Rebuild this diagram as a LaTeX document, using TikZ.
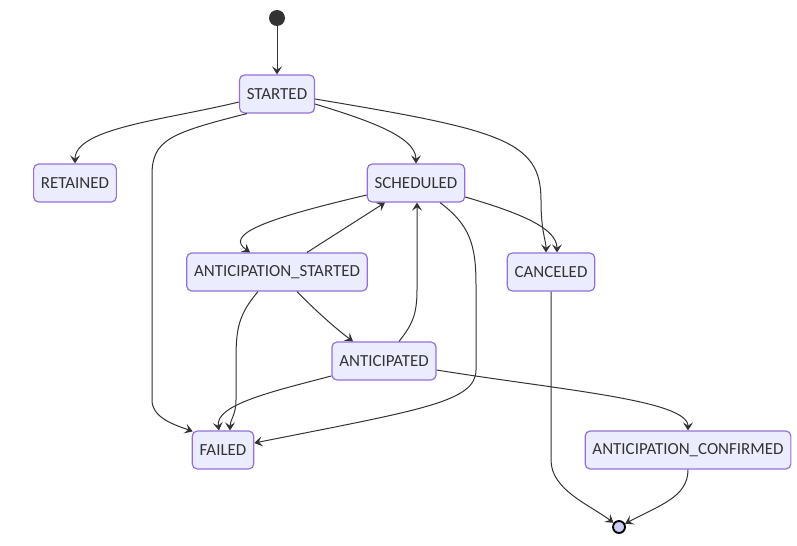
\documentclass[tikz,border=0pt]{standalone}
\usepackage{fontspec}
\setmainfont{Carlito}
\usetikzlibrary{arrows.meta,calc}
\definecolor{boxfill}{HTML}{ECECFF}
\definecolor{boxline}{HTML}{9370DB}
\definecolor{edgecol}{HTML}{333333}
\definecolor{endfill}{HTML}{CCCCF0}

\begin{document}
\begin{tikzpicture}[x=0.75pt,y=0.75pt,yscale=-1,xscale=1,
  state/.style={draw=boxline,fill=boxfill,line width=0.9pt,rounded corners=3.75pt,
    minimum height=28.5pt,inner xsep=5.5pt,text=edgecol,font=\fontsize{12.7pt}{14pt}\selectfont},
  edge/.style={draw=edgecol,line width=0.75pt,-{Stealth[length=6pt,width=7.5pt,inset=2.5pt]}}]
  \useasboundingbox (0,0) rectangle (797,546);

  % start and end points
  \node (init) [circle,fill=edgecol,minimum size=12pt,inner sep=0pt] at (277,18) {};
  \node (final) [circle,draw=black,fill=endfill,line width=1.4pt,minimum size=9pt,inner sep=0pt] at (619,527) {};

  % States
  \node (started) [state] at (277,94) {STARTED};
  \node (retained) [state] at (75,183) {RETAINED};
  \node (scheduled) [state] at (416,183) {SCHEDULED};
  \node (antstarted) [state] at (277,272) {ANTICIPATION\_STARTED};
  \node (canceled) [state] at (551,272) {CANCELED};
  \node (anticipated) [state] at (384,361) {ANTICIPATED};
  \node (failed) [state] at (223,450) {FAILED};
  \node (antconfirmed) [state] at (688,450) {ANTICIPATION\_CONFIRMED};

  % init -> STARTED
  \draw [edge] (init) -- (started.north);
  % STARTED -> RETAINED
  \draw [edge] ($(started.west)+(0,8)$) .. controls (165,120) and (75,128) .. (retained.north);
  % STARTED -> FAILED
  \draw [edge] ($(started.south west)+(8,0)$) .. controls (170,133) and (152,140) .. (152,175) -- (152,400) .. controls (152,418) and (175,425) .. ($(failed.north west)+(1,1)$);
  % STARTED -> SCHEDULED
  \draw [edge] ($(started.east)+(0,10)$) .. controls (360,118) and (416,135) .. (scheduled.north);
  % STARTED -> CANCELED
  \draw [edge] ($(started.east)+(0,5)$) .. controls (500,130) and (541,140) .. (541,200) .. controls (541,232) and (546,240) .. ($(canceled.north)+(-5,0)$);
  % SCHEDULED -> ANTICIPATION_STARTED
  \draw [edge] ($(scheduled.west)+(0,12)$) .. controls (260,220) and (225,235) .. ($(antstarted.north)+(-27,0)$);
  % ANTICIPATION_STARTED -> SCHEDULED
  \draw [edge] ($(antstarted.north)+(30,0)$) -- ($(scheduled.south)+(-31,0)$);
  % SCHEDULED -> FAILED
  \draw [edge] ($(scheduled.south)+(24,0)$) .. controls (470,225) and (476,245) .. (476,285) -- (476,370) .. controls (476,402) and (420,410) .. ($(failed.east)+(0,-7)$);
  % SCHEDULED -> CANCELED
  \draw [edge] ($(scheduled.east)+(0,14)$) .. controls (520,213) and (557,228) .. ($(canceled.north)+(6,0)$);
  % ANTICIPATION_STARTED -> ANTICIPATED
  \draw [edge] ($(antstarted.south)+(20,0)$) .. controls (315,310) and (335,328) .. ($(anticipated.north)+(-31,0)$);
  % ANTICIPATION_STARTED -> FAILED
  \draw [edge] ($(antstarted.south)+(-19,0)$) .. controls (238,315) and (236,330) .. (236,360) -- (236,400) .. controls (236,415) and (230,420) .. ($(failed.north)+(7,0)$);
  % ANTICIPATED -> SCHEDULED
  \draw [edge] ($(anticipated.north)+(15,0)$) .. controls (412,325) and (417,315) .. (417,290) -- ($(scheduled.south)+(1,0)$);
  % ANTICIPATED -> FAILED
  \draw [edge] ($(anticipated.west)+(0,15)$) .. controls (270,392) and (215,405) .. ($(failed.north)+(-4,0)$);
  % ANTICIPATED -> ANTICIPATION_CONFIRMED
  \draw [edge] ($(anticipated.east)+(0,9)$) .. controls (560,390) and (688,400) .. (antconfirmed.north);
  % CANCELED -> final
  \draw [edge] (canceled.south) -- (551,460) .. controls (551,490) and (590,505) .. (final);
  % ANTICIPATION_CONFIRMED -> final
  \draw [edge] (antconfirmed.south) .. controls (688,497) and (660,505) .. (final);
\end{tikzpicture}
\end{document}
